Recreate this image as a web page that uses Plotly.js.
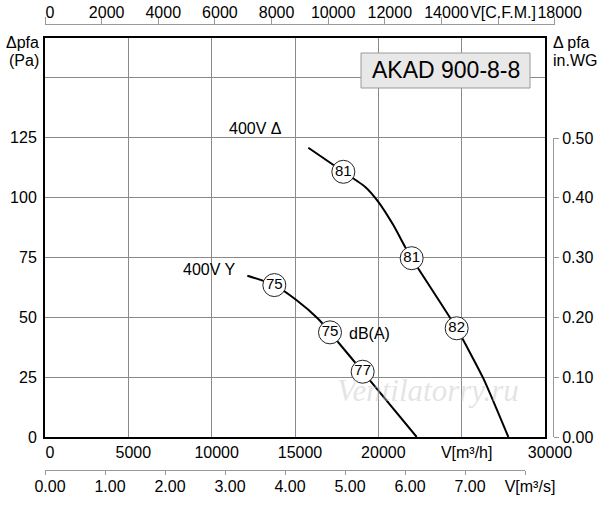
<!DOCTYPE html>
<html>
<head>
<meta charset="utf-8">
<script src="https://cdn.plot.ly/plotly-3.0.1.min.js"></script>
<style>html,body{margin:0;padding:0;background:#fff;}#chart{width:600px;height:505px;}</style>
</head>
<body>
<div id="chart"></div>
<script>
// ---- data (m³/h vs Pa) ----
var deltaX = [15800, 17900, 19200, 20000, 20900, 21600, 22000, 24700, 26300, 27800];
var deltaY = [120.5, 110.5, 104.3, 98.0, 88.3, 79.3, 74.5, 45.3, 24.4, 0];
var starX  = [12140, 13760, 15100, 16400, 17100, 19060, 22300];
var starY  = [67.2, 63.3, 57.0, 49.2, 43.6, 27.2, 0];
var dbX    = [17900, 22000, 24700, 13760, 17100, 19060];
var dbY    = [110.5, 74.5, 45.3, 63.3, 43.6, 27.2];
var dbText = ['81', '81', '82', '75', '75', '77'];

// ---- tick labels ----
var paTicks = [0, 25, 50, 75, 100, 125, 150];
var paLabels = ['0', '25', '50', '75', '100', '125', ''];
var m3hTicks = [0, 5000, 10000, 15000, 20000, 25000, 30000];
var m3hLabels = ['0', '5000', '10000', '15000', '20000', 'V[m³/h]', '30000'];
var cfmTicks = [0, 2000, 4000, 6000, 8000, 10000, 12000, 14000, 16000, 18000];
var cfmLabels = ['0', '2000', '4000', '6000', '8000', '10000', '12000', '14000', 'V[C.F.M.]', '18000'];
var m3sTicks = [0, 1, 2, 3, 4, 5, 6, 7, 8];
var m3sLabels = ['0.00', '1.00', '2.00', '3.00', '4.00', '5.00', '6.00', '7.00', 'V[m³/s]'];
var inwgTicks = [0, 0.1, 0.2, 0.3, 0.4, 0.5];
var inwgLabels = ['0.00', '0.10', '0.20', '0.30', '0.40', '0.50'];

// ---- geometry helpers (layout only) ----
var W = 600, H = 505, ML = 45, MR = 45, MT = 25, MB = 35;
var PW = W - ML - MR, PH = H - MT - MB;
function fx(px) { return (px - ML) / PW; }
function fy(py) { return (H - MB - py) / PH; }
var plotLeft = 45, plotRight = 545, plotTop = 38, plotBottom = 437;
var xMax = 30000, paMax = 166.25;
var CFM = 1.69901, PA_PER_INWG = 249.089;
var pxPerM3h = (plotRight - plotLeft) / xMax;
var pxPerPa = (plotBottom - plotTop) / paMax;

var FONT = 'Liberation Sans, Arial, Helvetica, sans-serif';
var GRID = '#8a8a8a';
var AX = '#999999';

var traces = [
  {x: deltaX, y: deltaY, mode: 'lines', line: {color: '#000', width: 2, shape: 'spline', smoothing: 0.5}, hoverinfo: 'skip'},
  {x: starX, y: starY, mode: 'lines', line: {color: '#000', width: 2, shape: 'spline', smoothing: 0.6}, hoverinfo: 'skip'},
  {x: dbX, y: dbY, mode: 'markers+text', text: dbText, textposition: 'middle center',
   textfont: {family: FONT, size: 15, color: '#000'},
   marker: {size: 23, color: '#fff', line: {color: '#222', width: 1}}, hoverinfo: 'skip'},
  {x: [0], y: [0], xaxis: 'x2', yaxis: 'y2', mode: 'markers', marker: {opacity: 0}, hoverinfo: 'skip'},
  {x: [0], y: [0], xaxis: 'x3', yaxis: 'y3', mode: 'markers', marker: {opacity: 0}, hoverinfo: 'skip'},
  {x: [0], y: [0], xaxis: 'x4', yaxis: 'y4', mode: 'markers', marker: {opacity: 0}, hoverinfo: 'skip'}
];

var yMainDom = [fy(plotBottom), fy(plotTop)];
var inwgTopPx = plotBottom - 0.5 * PA_PER_INWG * pxPerPa;

var layout = {
  width: W, height: H,
  margin: {l: ML, r: MR, t: MT, b: MB, pad: 0},
  paper_bgcolor: '#fff', plot_bgcolor: '#fff',
  showlegend: false,
  font: {family: FONT, size: 16, color: '#000'},
  xaxis: {
    domain: [0, fx(plotRight)], range: [0, xMax],
    tickvals: m3hTicks, ticktext: m3hLabels, tickangle: 0,
    showgrid: true, gridcolor: GRID, gridwidth: 1,
    showline: true, linecolor: '#000', linewidth: 2, mirror: true,
    ticks: '', zeroline: false, ticklabelshift: 5,
    tickfont: {family: FONT, size: 16, color: '#000'}
  },
  yaxis: {
    domain: yMainDom, range: [0, paMax],
    tickvals: paTicks, ticktext: paLabels,
    showgrid: true, gridcolor: GRID, gridwidth: 1,
    showline: true, linecolor: '#000', linewidth: 2, mirror: true,
    ticks: '', zeroline: false, ticklabelstandoff: 3,
    tickfont: {family: FONT, size: 16, color: '#000'}
  },
  xaxis2: {
    anchor: 'y2', side: 'top',
    domain: [0, fx(plotLeft + 18000 * CFM * pxPerM3h)], range: [0, 18000],
    tickvals: cfmTicks, ticktext: cfmLabels, tickangle: 0,
    showgrid: false, zeroline: false,
    showline: true, linecolor: AX, linewidth: 1,
    ticks: 'outside', ticklen: 7, tickcolor: AX, tickwidth: 1, ticklabelshift: 5,
    ticklabelstandoff: -7,
    tickfont: {family: FONT, size: 16, color: '#000'}
  },
  yaxis2: {domain: [0.99, 1], range: [0, 1], visible: false, anchor: 'x2'},
  xaxis3: {
    anchor: 'y3', side: 'bottom',
    domain: [0, fx(plotLeft + 8 * 3600 * pxPerM3h)], range: [0, 8],
    tickvals: m3sTicks, ticktext: m3sLabels, tickangle: 0,
    showgrid: false, zeroline: false,
    showline: true, linecolor: AX, linewidth: 1,
    ticks: 'outside', ticklen: 4, tickcolor: AX, tickwidth: 1, ticklabelshift: 5,
    ticklabelstandoff: -2,
    tickfont: {family: FONT, size: 16, color: '#000'}
  },
  yaxis3: {domain: [0, 0.01], range: [0, 1], visible: false, anchor: 'x3'},
  xaxis4: {domain: [0.99, fx(553)], range: [0, 1], visible: false, anchor: 'y4'},
  yaxis4: {
    anchor: 'x4', side: 'right',
    domain: [fy(plotBottom), fy(inwgTopPx)], range: [0, 0.5],
    tickvals: inwgTicks, ticktext: inwgLabels,
    showgrid: false, zeroline: false,
    showline: true, linecolor: AX, linewidth: 1,
    ticks: 'outside', ticklen: 5, tickcolor: AX, tickwidth: 1,
    tickfont: {family: FONT, size: 16, color: '#000'}
  },
  shapes: [
    {type: 'rect', xref: 'paper', yref: 'paper', x0: fx(361), x1: fx(530), y0: fy(88), y1: fy(53),
     fillcolor: '#e8e8e8', line: {color: '#9a9a9a', width: 1}, layer: 'above'}
  ],
  annotations: [
    {xref: 'paper', yref: 'paper', x: fx(445.5), y: fy(70.5), text: 'AKAD 900-8-8', showarrow: false,
     xanchor: 'center', yanchor: 'middle', font: {family: FONT, size: 23, color: '#000'}},
    {xref: 'paper', yref: 'paper', x: fx(41), y: fy(42.7), text: 'Δpfa', showarrow: false,
     xanchor: 'right', yanchor: 'middle', font: {family: FONT, size: 16, color: '#000'}},
    {xref: 'paper', yref: 'paper', x: fx(41), y: fy(60.5), text: '(Pa)', showarrow: false,
     xanchor: 'right', yanchor: 'middle', font: {family: FONT, size: 16, color: '#000'}},
    {xref: 'paper', yref: 'paper', x: fx(551), y: fy(42.7), text: 'Δ pfa', showarrow: false,
     xanchor: 'left', yanchor: 'middle', font: {family: FONT, size: 16, color: '#000'}},
    {xref: 'paper', yref: 'paper', x: fx(551), y: fy(60.5), text: 'in.WG', showarrow: false,
     xanchor: 'left', yanchor: 'middle', font: {family: FONT, size: 16, color: '#000'}},
    {x: 14340, y: 128.6, text: '400V Δ', showarrow: false, xanchor: 'right', yanchor: 'middle',
     font: {family: FONT, size: 16, color: '#000'}},
    {x: 11580, y: 69.6, text: '400V Y', showarrow: false, xanchor: 'right', yanchor: 'middle',
     font: {family: FONT, size: 16, color: '#000'}},
    {x: 18100, y: 43.2, text: 'dB(A)', showarrow: false, xanchor: 'left', yanchor: 'middle',
     font: {family: FONT, size: 16, color: '#000'}},
    {x: 23000, y: 19.5, text: 'Ventilatorry.ru', showarrow: false, xanchor: 'center', yanchor: 'middle',
     font: {family: 'Liberation Serif, serif', size: 31, color: 'rgba(195,195,195,0.45)', style: 'italic'}}
  ]
};

Plotly.newPlot('chart', traces, layout, {staticPlot: true, displayModeBar: false});
</script>
</body>
</html>
